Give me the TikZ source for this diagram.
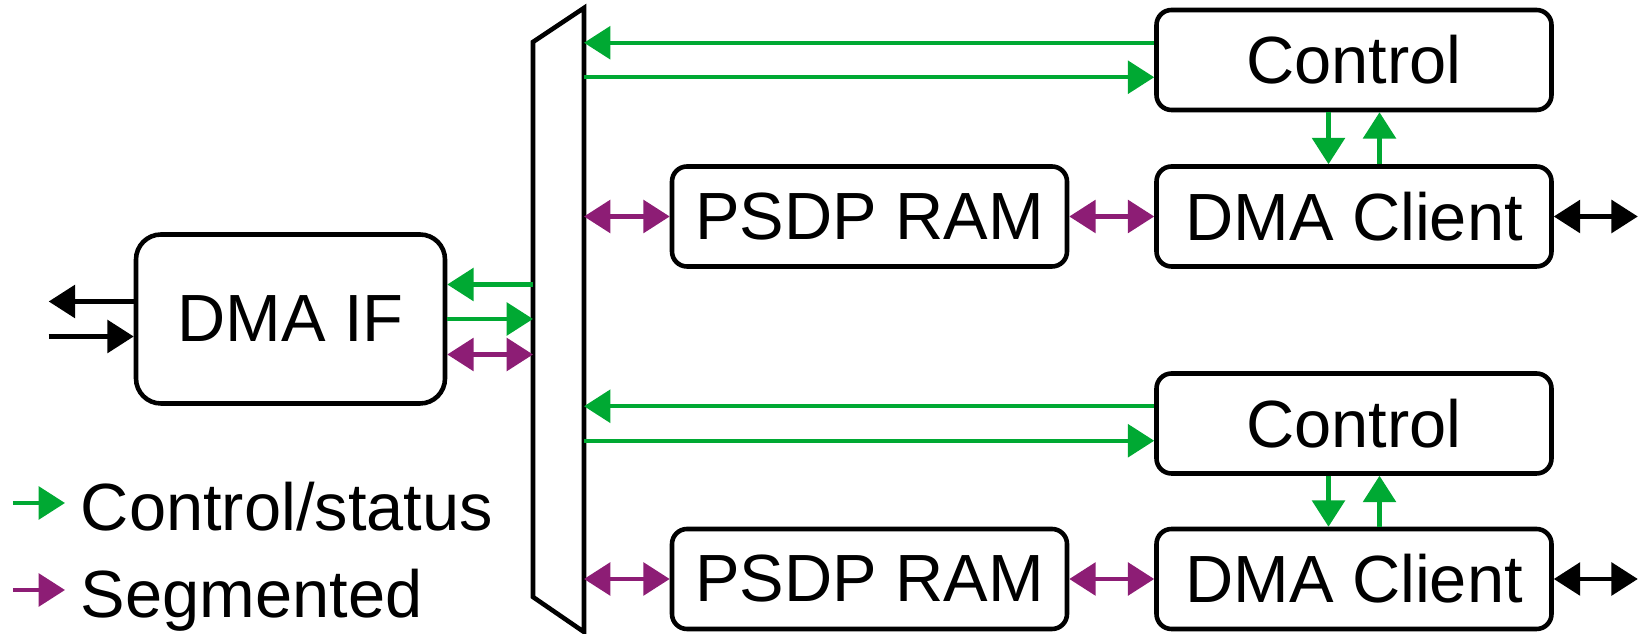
\documentclass[tikz,border=0pt]{standalone}
\usepackage{fontspec}
\setmainfont{Liberation Sans}
\usetikzlibrary{arrows.meta,calc}
\definecolor{ctlgreen}{HTML}{00A933}
\definecolor{segpurple}{HTML}{8D1D75}
\tikzset{
  block/.style={
    draw,
    line width=2.6pt,
    rounded corners=0.3cm,
    inner sep=0pt,
    minimum width=7.9cm,
    minimum height=2cm
  },
  bigblock/.style={
    block,
    rounded corners=0.5cm,
    minimum width=6.18cm,
    minimum height=3.38cm
  },
  ctl/.style={line width=2.5pt, ctlgreen},
  seg/.style={line width=2.5pt, segpurple},
  ext/.style={line width=2.5pt, black},
  keytext/.style={anchor=base west, inner sep=0pt}
}

\begin{document}
\begin{tikzpicture}[>={Triangle[length=15pt,width=18.5pt]}, font=\fontsize{38}{45}\selectfont]
  \useasboundingbox (0,0) rectangle (32.94,12.68);
  % switch between interface and clients
  \draw[line width=2.6pt] (11.68,12.52) -- (10.66,11.84) -- (10.66,0.74) -- (11.68,0.04) -- cycle;
  \coordinate (ml) at (10.66,6.3);
  \coordinate (mr) at (11.68,6.3);

  \node[bigblock] (dmaif) at (5.81,6.30) {DMA IF};
  \draw[ctl,<-] ($(dmaif.east)+(0,0.69)$) -- ($(dmaif.east -| ml)+(0,0.69)$);
  \draw[ctl,->] (dmaif.east) -- (dmaif.east -| ml);
  \draw[seg,<->] ($(dmaif.east)+(0,-0.71)$) -- ($(dmaif.east -| ml)+(0,-0.71)$);
  \draw[ext,->] ($(dmaif.west)+(0,0.35)$) -- ++(-1.7,0);
  \draw[ext,->] ($(dmaif.west)+(-1.7,-0.35)$) -- ($(dmaif.west)+(0,-0.35)$);

  \foreach \i/\yc/\yd in {1/11.48/8.35, 2/4.21/1.10}{
    \node[block] (ctrl\i) at (27.08,\yc) {Control};
    \node[block] (dma\i) at (27.08,\yd) {DMA Client};
    \node[block] (ram\i) at (17.39,\yd) {PSDP RAM};
    \draw[ctl,<-] ($(ctrl\i.west -| mr)+(0,0.345)$) -- ($(ctrl\i.west)+(0,0.345)$);
    \draw[ctl,->] ($(ctrl\i.west -| mr)+(0,-0.345)$) -- ($(ctrl\i.west)+(0,-0.345)$);
    \draw[ctl,->] ($(ctrl\i.south)+(-0.51,0)$) -- ($(dma\i.north)+(-0.51,0)$);
    \draw[ctl,<-] ($(ctrl\i.south)+(0.51,0)$) -- ($(dma\i.north)+(0.51,0)$);
    \draw[seg,<->] (ram\i.west -| mr) -- (ram\i.west);
    \draw[seg,<->] (ram\i.east) -- (dma\i.west);
    \draw[ext,<->] (dma\i.east) -- ++(1.68,0);
  }

  % key
  \node[keytext] (keyctl) at (1.61,2.06) {Control/status};
  \node[keytext] (keyseg) at (1.61,0.32) {Segmented};
  \draw[ctl,->] ($(keyctl.base west)+(-1.35,0.56)$) -- ++(1.04,0);
  \draw[seg,->] ($(keyseg.base west)+(-1.35,0.56)$) -- ++(1.04,0);
\end{tikzpicture}
\end{document}
